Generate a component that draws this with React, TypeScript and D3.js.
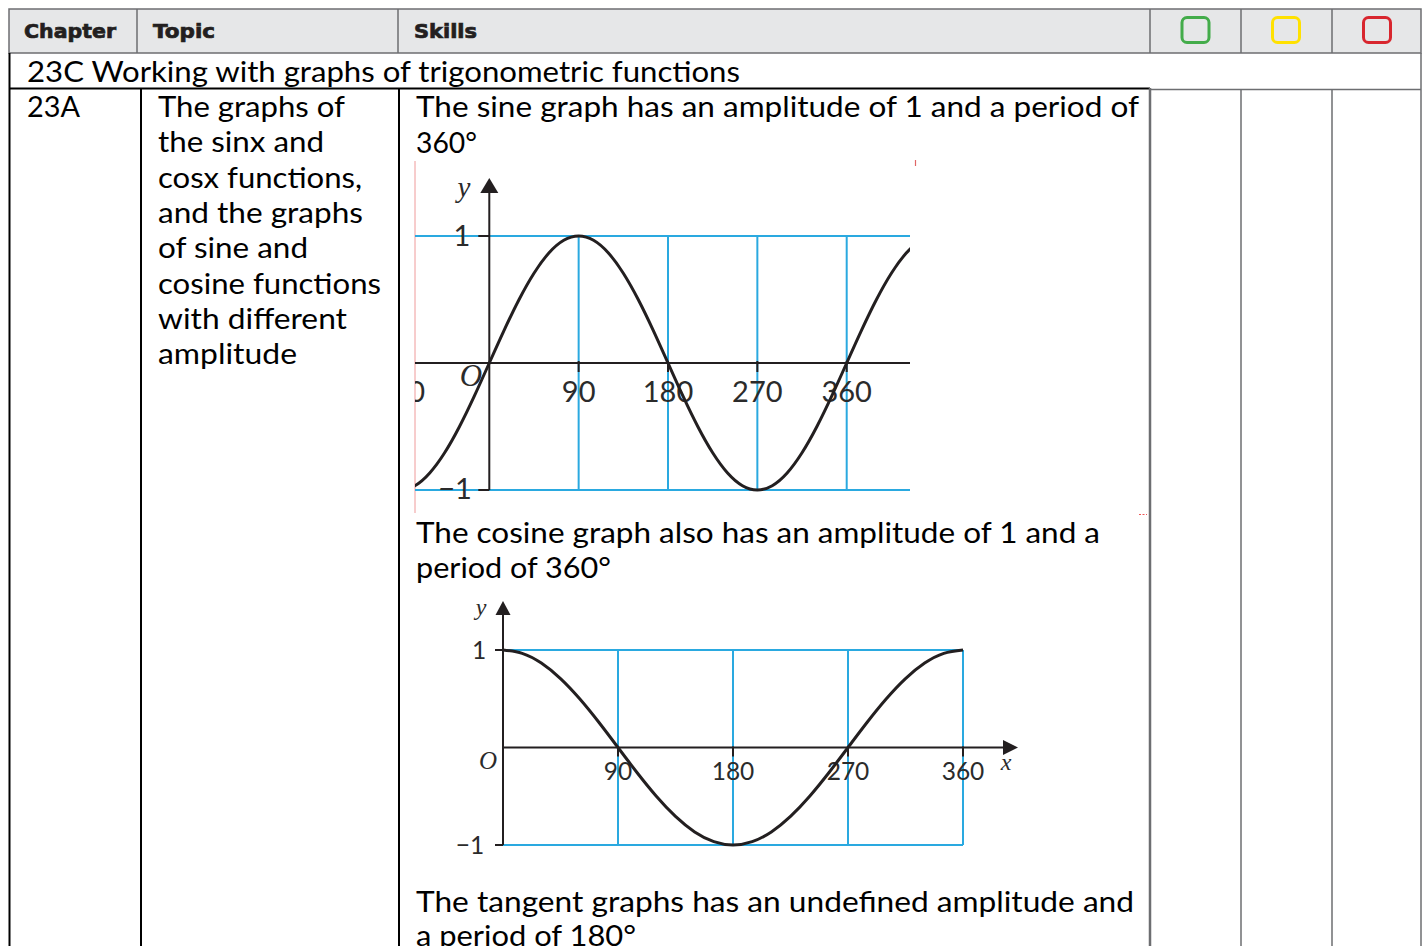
import React from "react";
import * as d3 from "d3";

// ---- table content ----
const headerLabels = ["Chapter", "Topic", "Skills"];
const sectionTitle = "23C Working with graphs of trigonometric functions";
const chapterCode = "23A";
const topicLines = [
  "The graphs of",
  "the sinx and",
  "cosx functions,",
  "and the graphs",
  "of sine and",
  "cosine functions",
  "with different",
  "amplitude",
];
const sineNote = ["The sine graph has an amplitude of 1 and a period of", "360°"];
const cosineNote = ["The cosine graph also has an amplitude of 1 and a", "period of 360°"];
const tangentNote = ["The tangent graphs has an undefined amplitude and", "a period of 180°"];
const ratingColors = ["#43ac4a", "#ffe100", "#d8262e"];

// ---- graph data (angle in degrees, value) ----
const sineAngles = [-90, -75, -60, -45, -30, -15, 0, 15, 30, 45, 60, 75, 90, 105, 120, 135, 150, 165, 180,
  195, 210, 225, 240, 255, 270, 285, 300, 315, 330, 345, 360, 375, 390, 405, 420, 435, 450];
const sineValues = [-1, -0.966, -0.866, -0.707, -0.5, -0.259, 0, 0.259, 0.5, 0.707, 0.866, 0.966, 1, 0.966,
  0.866, 0.707, 0.5, 0.259, 0, -0.259, -0.5, -0.707, -0.866, -0.966, -1, -0.966, -0.866, -0.707, -0.5,
  -0.259, 0, 0.259, 0.5, 0.707, 0.866, 0.966, 1];
const sineTickLabels = [-90, 90, 180, 270, 360, 450];
const sineGridAngles = [90, 180, 270, 360];

const cosineAngles = [0, 15, 30, 45, 60, 75, 90, 105, 120, 135, 150, 165, 180, 195, 210, 225, 240, 255, 270,
  285, 300, 315, 330, 345, 360];
const cosineValues = [1, 0.966, 0.866, 0.707, 0.5, 0.259, 0, -0.259, -0.5, -0.707, -0.866, -0.966, -1,
  -0.966, -0.866, -0.707, -0.5, -0.259, 0, 0.259, 0.5, 0.707, 0.866, 0.966, 1];
const cosineTickLabels = [90, 180, 270, 360];

const TEXT_FONT = "Lato, 'Open Sans', sans-serif";
const HEAD_FONT = "'DejaVu Sans', sans-serif";
const MATH_FONT = "'Liberation Serif', 'DejaVu Serif', serif";
const CYAN = "#2aa9e0";
const INK = "#231f20";
const LABEL = "#2b2b2b";
const GRID_GRAY = "#6d6e71";

type LineProps = { x: number; y: number; w: number; children: string; size?: number };
const TextLine = ({ x, y, w, children, size = 28 }: LineProps) => (
  <text x={x} y={y} fontFamily={TEXT_FONT} fontSize={size} fill="#000" textLength={w} lengthAdjust="spacingAndGlyphs">
    {children}
  </text>
);

export default function App() {
  // sine graph scales
  const sx = d3.scaleLinear().domain([0, 360]).range([489.3, 846.7]);
  const sy = d3.scaleLinear().domain([-1, 1]).range([490, 236]);
  const sinePath = d3
    .line<number>()
    .x((_, i) => sx(sineAngles[i]))
    .y((v) => sy(v))
    .curve(d3.curveNatural)(sineValues);

  // cosine graph scales
  const cx = d3.scaleLinear().domain([0, 360]).range([503, 963]);
  const cy = d3.scaleLinear().domain([-1, 1]).range([845, 650]);
  const cosinePath = d3
    .line<number>()
    .x((_, i) => cx(cosineAngles[i]))
    .y((v) => cy(v))
    .curve(d3.curveNatural)(cosineValues);

  const headerX = [24, 153, 414];
  const headerW = [92, 62, 63];
  const topicW = [187, 166, 204, 205, 150, 223, 189, 139];
  const ratingX = [1195.5, 1286, 1377];

  return (
    <svg width={1422} height={946} style={{ position: "absolute", left: 0, top: 0, background: "#fff" }}>
      <defs>
        <clipPath id="sineClip">
          <rect x={415} y={160} width={495} height={355} />
        </clipPath>
      </defs>

      {/* header row */}
      <rect x={9} y={9} width={1412} height={44} fill="#e6e7e8" stroke={GRID_GRAY} strokeWidth={1.5} />
      {[137, 398, 1150, 1241, 1332].map((x) => (
        <line key={x} x1={x} x2={x} y1={9} y2={53} stroke={GRID_GRAY} strokeWidth={1.5} />
      ))}
      {headerLabels.map((h, i) => (
        <text key={h} x={headerX[i]} y={37.5} fontFamily={HEAD_FONT} fontWeight="bold" fontSize={19}
          fill="#231f20" stroke="#231f20" strokeWidth={0.7} textLength={headerW[i]} lengthAdjust="spacingAndGlyphs">
          {h}
        </text>
      ))}
      {ratingColors.map((c, i) => (
        <rect key={c} x={ratingX[i] - 13.5} y={17.5} width={27} height={25} rx={5} fill="none" stroke={c} strokeWidth={3} />
      ))}

      {/* section row */}
      <line x1={1421} x2={1421} y1={53} y2={946} stroke={GRID_GRAY} strokeWidth={1.5} />
      <line x1={1150} x2={1421} y1={89.5} y2={89.5} stroke={GRID_GRAY} strokeWidth={1.5} />
      <line x1={9} x2={1150} y1={88.5} y2={88.5} stroke="#000" strokeWidth={2} />
      <line x1={9.5} x2={9.5} y1={53} y2={946} stroke="#000" strokeWidth={2} />
      <TextLine x={27} y={82} w={713}>{sectionTitle}</TextLine>

      {/* body row grid */}
      <line x1={141} x2={141} y1={88} y2={946} stroke="#000" strokeWidth={2} />
      <line x1={399} x2={399} y1={88} y2={946} stroke="#000" strokeWidth={2} />
      <line x1={1150} x2={1150} y1={88} y2={946} stroke={GRID_GRAY} strokeWidth={2.5} />
      <line x1={1241} x2={1241} y1={89} y2={946} stroke={GRID_GRAY} strokeWidth={1.5} />
      <line x1={1332} x2={1332} y1={89} y2={946} stroke={GRID_GRAY} strokeWidth={1.5} />

      <TextLine x={27} y={117} w={53}>{chapterCode}</TextLine>
      {topicLines.map((t, i) => (
        <TextLine key={t} x={158} y={117 + i * 35.3} w={topicW[i]}>{t}</TextLine>
      ))}

      <TextLine x={416} y={117} w={723}>{sineNote[0]}</TextLine>
      <TextLine x={416} y={153} w={61}>{sineNote[1]}</TextLine>
      <TextLine x={416} y={543} w={684}>{cosineNote[0]}</TextLine>
      <TextLine x={416} y={578} w={195}>{cosineNote[1]}</TextLine>
      <TextLine x={416} y={912} w={718}>{tangentNote[0]}</TextLine>
      <TextLine x={416} y={946} w={220}>{tangentNote[1]}</TextLine>

      {/* sine graph */}
      <line x1={415} x2={415} y1={161} y2={513} stroke="#ef9a9a" strokeWidth={1} />
      <line x1={915.5} x2={915.5} y1={160} y2={166} stroke="#e06666" strokeWidth={1.2} />
      <line x1={1139} x2={1147} y1={514.5} y2={514.5} stroke="#ee5555" strokeWidth={1} strokeDasharray="2 1.5" />
      <g clipPath="url(#sineClip)">
        {[1, -1].map((v) => (
          <line key={v} x1={415} x2={910} y1={sy(v)} y2={sy(v)} stroke={CYAN} strokeWidth={2} />
        ))}
        {sineGridAngles.map((a) => (
          <line key={a} x1={sx(a)} x2={sx(a)} y1={sy(1)} y2={sy(-1)} stroke={CYAN} strokeWidth={2} />
        ))}
        <line x1={415} x2={910} y1={sy(0)} y2={sy(0)} stroke={INK} strokeWidth={2} />
        {sineGridAngles.map((a) => (
          <line key={"t" + a} x1={sx(a)} x2={sx(a)} y1={sy(0) - 2} y2={sy(0) + 9} stroke={INK} strokeWidth={2} />
        ))}
        {sineTickLabels.map((a) => (
          <text key={"l" + a} x={sx(a)} y={402} textAnchor="middle" fontFamily={TEXT_FONT} fontSize={29} fill={LABEL}>
            {a < 0 ? "\u2212" + Math.abs(a) : a}
          </text>
        ))}
        <path d={sinePath ?? ""} fill="none" stroke={INK} strokeWidth={3} />
      </g>
      <line x1={sx(0)} x2={sx(0)} y1={sy(-1)} y2={190} stroke={INK} strokeWidth={2} />
      <path d={`M${sx(0)},178 L${sx(0) + 9},193 L${sx(0) - 9},193 Z`} fill={INK} />
      {[1, -1].map((v) => (
        <line key={"yt" + v} x1={sx(0) - 11} x2={sx(0)} y1={sy(v)} y2={sy(v)} stroke={INK} strokeWidth={2} />
      ))}
      <text x={462} y={246} textAnchor="middle" fontFamily={TEXT_FONT} fontSize={29} fill={LABEL}>1</text>
      <text x={455} y={499} textAnchor="middle" fontFamily={TEXT_FONT} fontSize={29} fill={LABEL}>{"\u22121"}</text>
      <text x={471} y={386} textAnchor="middle" fontFamily={MATH_FONT} fontStyle="italic" fontSize={31} fill={LABEL}>O</text>
      <text x={464} y={197} textAnchor="middle" fontFamily={MATH_FONT} fontStyle="italic" fontSize={29} fill={LABEL}>y</text>

      {/* cosine graph */}
      {[1, -1].map((v) => (
        <line key={"c" + v} x1={cx(0)} x2={cx(360)} y1={cy(v)} y2={cy(v)} stroke={CYAN} strokeWidth={2} />
      ))}
      {cosineTickLabels.map((a) => (
        <line key={"cg" + a} x1={cx(a)} x2={cx(a)} y1={cy(1)} y2={cy(-1)} stroke={CYAN} strokeWidth={2} />
      ))}
      <line x1={cx(0)} x2={1008} y1={cy(0)} y2={cy(0)} stroke={INK} strokeWidth={2} />
      <path d={`M1018,${cy(0)} L1003,${cy(0) - 7.5} L1003,${cy(0) + 7.5} Z`} fill={INK} />
      {cosineTickLabels.map((a) => (
        <line key={"ct" + a} x1={cx(a)} x2={cx(a)} y1={cy(0) - 1} y2={cy(0) + 9} stroke={INK} strokeWidth={2} />
      ))}
      <line x1={cx(0)} x2={cx(0)} y1={cy(-1)} y2={610} stroke={INK} strokeWidth={2} />
      <path d={`M${cx(0)},601 L${cx(0) + 7.5},615 L${cx(0) - 7.5},615 Z`} fill={INK} />
      {[1, -1].map((v) => (
        <line key={"cyt" + v} x1={cx(0) - 8} x2={cx(0)} y1={cy(v)} y2={cy(v)} stroke={INK} strokeWidth={2} />
      ))}
      {cosineTickLabels.map((a) => (
        <text key={"cl" + a} x={cx(a)} y={780} textAnchor="middle" fontFamily={TEXT_FONT} fontSize={24.5} fill={LABEL}>
          {a}
        </text>
      ))}
      <path d={cosinePath ?? ""} fill="none" stroke={INK} strokeWidth={3} />
      <text x={479} y={658.5} textAnchor="middle" fontFamily={TEXT_FONT} fontSize={24.5} fill={LABEL}>1</text>
      <text x={470} y={853.5} textAnchor="middle" fontFamily={TEXT_FONT} fontSize={24.5} fill={LABEL}>{"\u22121"}</text>
      <text x={488} y={769} textAnchor="middle" fontFamily={MATH_FONT} fontStyle="italic" fontSize={25} fill={LABEL}>O</text>
      <text x={481} y={615} textAnchor="middle" fontFamily={MATH_FONT} fontStyle="italic" fontSize={24} fill={LABEL}>y</text>
      <text x={1006} y={770} textAnchor="middle" fontFamily={MATH_FONT} fontStyle="italic" fontSize={24} fill={LABEL}>x</text>
    </svg>
  );
}
